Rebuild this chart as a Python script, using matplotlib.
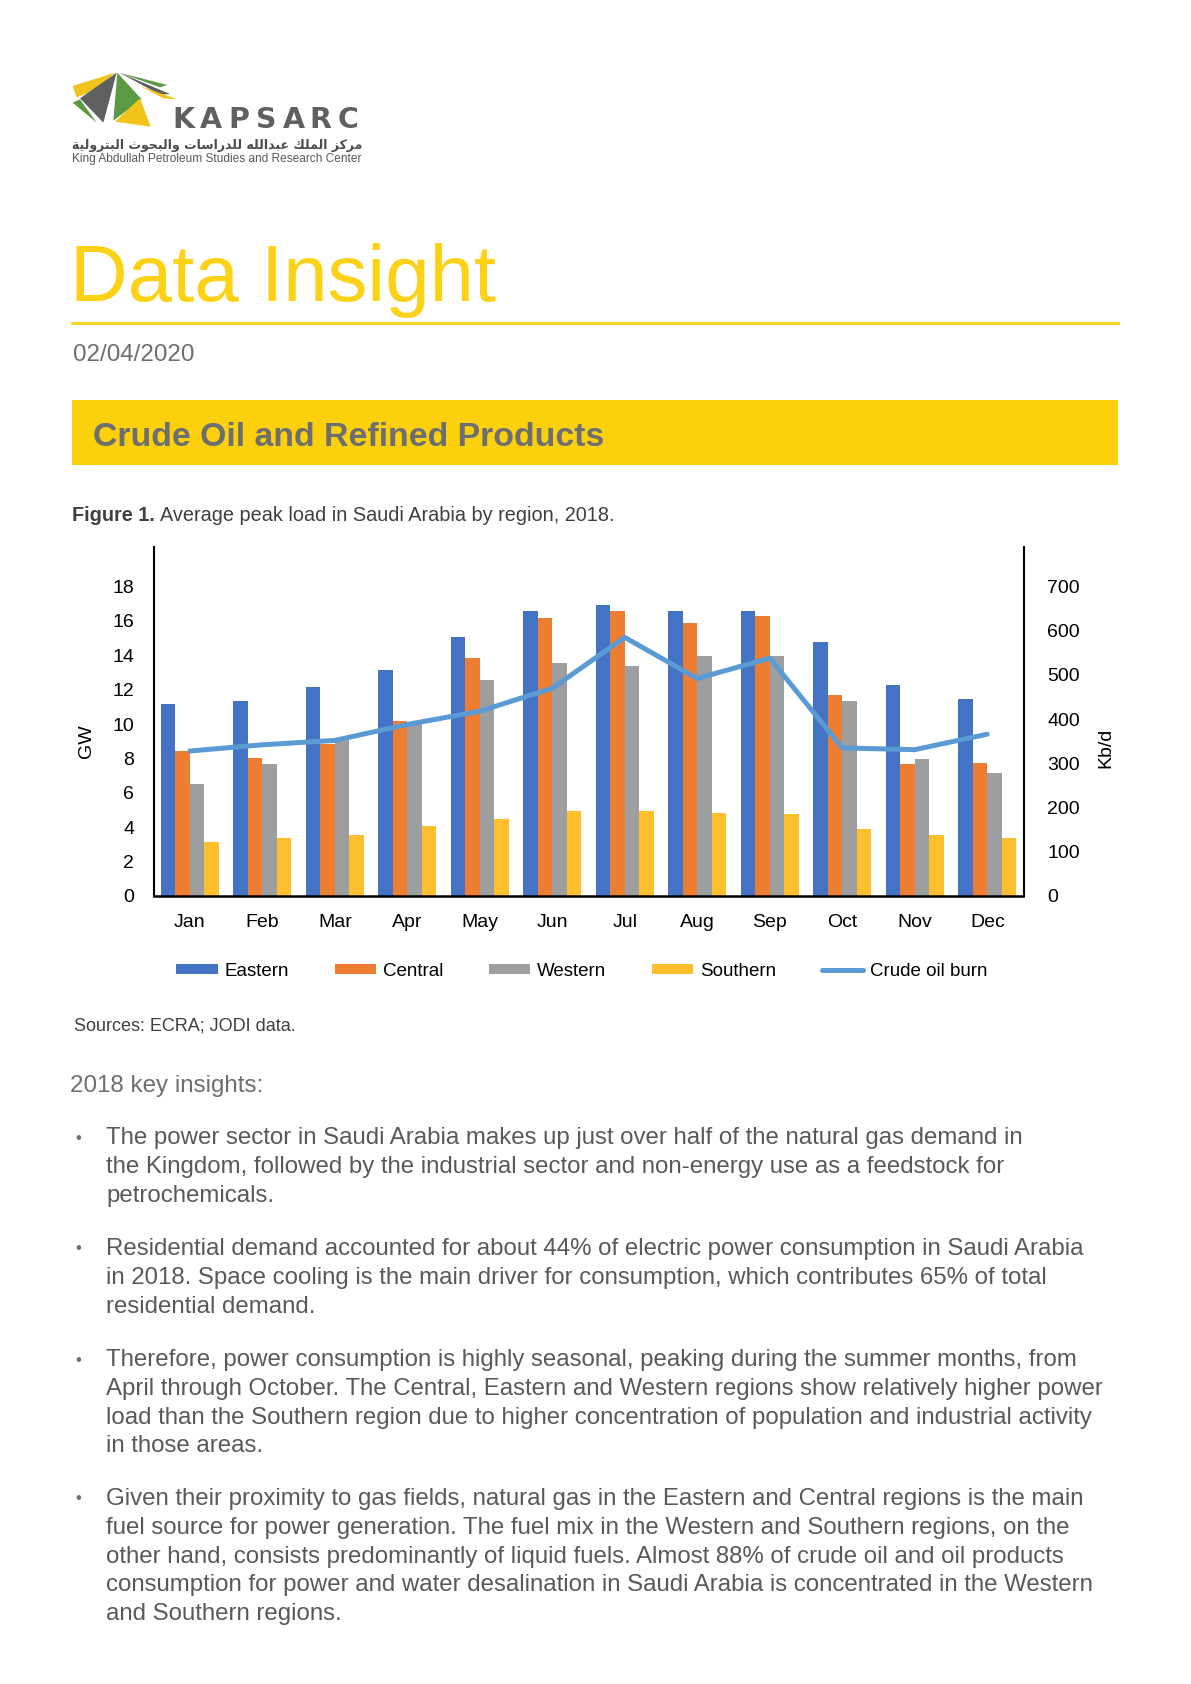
import matplotlib
matplotlib.use("Agg")
import matplotlib.pyplot as plt
from matplotlib.patches import Polygon, Rectangle
import numpy as np

# ---- data ----
months = ["Jan", "Feb", "Mar", "Apr", "May", "Jun",
          "Jul", "Aug", "Sep", "Oct", "Nov", "Dec"]
eastern = [11.15, 11.35, 12.15, 13.15, 15.05, 16.55, 16.95, 16.55, 16.6, 14.8, 12.25, 11.45]
central = [8.45, 8.0, 8.85, 10.2, 13.85, 16.15, 16.6, 15.9, 16.3, 11.7, 7.65, 7.75]
western = [6.5, 7.65, 9.05, 10.05, 12.55, 13.55, 13.35, 13.95, 13.95, 11.35, 7.95, 7.15]
southern = [3.15, 3.35, 3.55, 4.05, 4.5, 4.95, 4.95, 4.85, 4.75, 3.9, 3.55, 3.35]
crude_burn = [328, 342, 352, 388, 418, 470, 585, 492, 538, 335, 331, 366]

series_names = ["Eastern", "Central", "Western", "Southern"]
series_colors = ["#4472C4", "#ED7D31", "#9C9EA0", "#FDBF2D"]
line_color = "#5B9BD5"

bullets = [
    ["The power sector in Saudi Arabia makes up just over half of the natural gas demand in",
     "the Kingdom, followed by the industrial sector and non-energy use as a feedstock for",
     "petrochemicals."],
    ["Residential demand accounted for about 44% of electric power consumption in Saudi Arabia",
     "in 2018. Space cooling is the main driver for consumption, which contributes 65% of total",
     "residential demand."],
    ["Therefore, power consumption is highly seasonal, peaking during the summer months, from",
     "April through October. The Central, Eastern and Western regions show relatively higher power",
     "load than the Southern region due to higher concentration of population and industrial activity",
     "in those areas."],
    ["Given their proximity to gas fields, natural gas in the Eastern and Central regions is the main",
     "fuel source for power generation. The fuel mix in the Western and Southern regions, on the",
     "other hand, consists predominantly of liquid fuels. Almost 88% of crude oil and oil products",
     "consumption for power and water desalination in Saudi Arabia is concentrated in the Western",
     "and Southern regions."],
]
bullet_tops = [1138, 1249, 1360, 1499]

W, H = 1191, 1684
YELLOW = "#FCD116"
GREY = "#58595B"

plt.rcParams["font.family"] = ["Liberation Sans", "DejaVu Sans"]


def fx(x):
    return x / W


def fy(y):
    return 1 - y / H


# minimal arabic shaping with presentation forms (iso, fin, ini, med)
AR_FORMS = {
    "ا": (0xFE8D, 0xFE8E, None, None),
    "ب": (0xFE8F, 0xFE90, 0xFE91, 0xFE92),
    "ة": (0xFE93, 0xFE94, None, None),
    "ت": (0xFE95, 0xFE96, 0xFE97, 0xFE98),
    "ث": (0xFE99, 0xFE9A, 0xFE9B, 0xFE9C),
    "ح": (0xFEA1, 0xFEA2, 0xFEA3, 0xFEA4),
    "د": (0xFEA9, 0xFEAA, None, None),
    "ر": (0xFEAD, 0xFEAE, None, None),
    "ز": (0xFEAF, 0xFEB0, None, None),
    "س": (0xFEB1, 0xFEB2, 0xFEB3, 0xFEB4),
    "ع": (0xFEC9, 0xFECA, 0xFECB, 0xFECC),
    "ك": (0xFED9, 0xFEDA, 0xFEDB, 0xFEDC),
    "ل": (0xFEDD, 0xFEDE, 0xFEDF, 0xFEE0),
    "م": (0xFEE1, 0xFEE2, 0xFEE3, 0xFEE4),
    "ه": (0xFEE9, 0xFEEA, 0xFEEB, 0xFEEC),
    "و": (0xFEED, 0xFEEE, None, None),
    "ي": (0xFEF1, 0xFEF2, 0xFEF3, 0xFEF4),
}


def shape_arabic(text):
    out = []
    for i, ch in enumerate(text):
        forms = AR_FORMS.get(ch)
        if forms is None:
            out.append(ch)
            continue
        prev = text[i - 1] if i > 0 else " "
        nxt = text[i + 1] if i + 1 < len(text) else " "
        join_prev = prev in AR_FORMS and AR_FORMS[prev][2] is not None
        join_next = nxt in AR_FORMS and forms[2] is not None
        iso, fin, ini, med = forms
        if join_prev and join_next:
            c = med
        elif join_prev:
            c = fin
        elif join_next:
            c = ini
        else:
            c = iso
        out.append(chr(c))
    return "".join(reversed(out))


fig = plt.figure(figsize=(W / 100, H / 100), dpi=100)

# ---- logo ----
logo = fig.add_axes([0, 0, 1, 1], zorder=-1)
logo.set_xlim(0, W)
logo.set_ylim(H, 0)
logo.axis("off")


def z(pts):
    return [(px / 3 + 60, py / 3 + 60) for px, py in pts]


shapes = [
    (z([(165, 38), (38, 78), (50, 112), (110, 88)]), "#F2C318"),
    (z([(170, 38), (60, 115), (130, 188)]), "#5F6062"),
    (z([(60, 118), (38, 128), (110, 188)]), "#5B9A43"),
    (z([(172, 38), (160, 182), (245, 118)]), "#5B9A43"),
    (z([(165, 185), (240, 115), (272, 200)]), "#F2C318"),
    (z([(178, 38), (330, 102), (300, 104)]), "#5F6062"),
    (z([(178, 38), (322, 75), (300, 82)]), "#5B9A43"),
    (z([(240, 78), (352, 118), (310, 115)]), "#F2C318"),
]
for pts, col in shapes:
    logo.add_patch(Polygon(pts, closed=True, facecolor=col, edgecolor="none"))

for i, letter in enumerate("KAPSARC"):
    fig.text(fx(170 + 192 / 7 * (i + 0.5)), fy(119.5), letter, ha="center", va="center",
             fontsize=20.5, fontweight="bold", color="#5F6062", family="DejaVu Sans")
fig.text(fx(362), fy(145), shape_arabic("مركز الملك عبدالله للدراسات والبحوث البترولية"),
         ha="right", va="center", fontsize=9.0, color="#4D4D4F", family="DejaVu Sans",
         fontweight="bold")
fig.text(fx(72), fy(159), "King Abdullah Petroleum Studies and Research Center",
         ha="left", va="center", fontsize=8.55, color=GREY)

# ---- header ----
fig.text(fx(70), fy(301), "Data Insight", ha="left", va="baseline",
         fontsize=57.5, color=YELLOW)
logo.plot([72, 1118], [323, 323], color=YELLOW, lw=2)
fig.text(fx(73), fy(355), "02/04/2020", ha="left", va="center", fontsize=17.4, color="#6D6E70")
logo.add_patch(Rectangle((72, 400), 1046, 65, facecolor="#FDD00E", edgecolor="none"))
fig.text(fx(93), fy(437), "Crude Oil and Refined Products", ha="left", va="center",
         fontsize=24.4, fontweight="bold", color="#6D6E70")

fig.text(fx(72), fy(515), "Figure 1.", ha="left", va="center", fontsize=14.3,
         fontweight="bold", color="#3F3F3F")
fig.text(fx(160), fy(515), "Average peak load in Saudi Arabia by region, 2018.", ha="left",
         va="center", fontsize=14.3, color="#3F3F3F")

# ---- chart ----
ax = fig.add_axes([fx(153.6), fy(896), (1023.5 - 153.6) / W, (896 - 547) / H])
x = np.arange(len(months))
for k, (vals, name, col) in enumerate(zip([eastern, central, western, southern],
                                          series_names, series_colors)):
    ax.bar(x + (k - 1.5) * 0.2, vals, width=0.2, color=col, label=name, zorder=2)

ax.set_xlim(-0.5, 11.5)
ax.set_ylim(0, 20.3)
ax.set_yticks(range(0, 19, 2))
ax.set_xticks(x)
ax.set_xticklabels(months)
ax.tick_params(axis="both", length=0, labelsize=14, colors="black")
ax.tick_params(axis="y", pad=14)
ax.tick_params(axis="x", pad=13)
for s in ["top", "right"]:
    ax.spines[s].set_visible(False)
ax.spines["left"].set_linewidth(1.5)
ax.spines["bottom"].set_linewidth(1.8)

ax2 = ax.twinx()
ax2.plot(x, crude_burn, color=line_color, lw=3.6, label="Crude oil burn", solid_capstyle="round")
ax2.set_ylim(0, 20.3 / 18 * 700)
ax2.set_yticks(range(0, 701, 100))
ax2.tick_params(axis="y", length=0, labelsize=14, pad=17)
for s in ["top", "left", "bottom"]:
    ax2.spines[s].set_visible(False)
ax2.spines["right"].set_linewidth(1.5)

fig.text(fx(86), fy(741), "GW", rotation=90, ha="center", va="center", fontsize=14)
fig.text(fx(1106), fy(748), "Kb/d", rotation=90, ha="center", va="center", fontsize=14)

h1, l1 = ax.get_legend_handles_labels()
h2, l2 = ax2.get_legend_handles_labels()
fig.legend(h1 + h2, l1 + l2, loc="center", bbox_to_anchor=(fx(582), fy(971)), ncol=5,
           frameon=False, fontsize=13.5, handlelength=2.2, handleheight=0.5,
           handletextpad=0.4, columnspacing=2.4)

fig.text(fx(74), fy(1026), "Sources: ECRA; JODI data.", ha="left", va="center",
         fontsize=13, color="#3F3F3F")

# ---- insights ----
fig.text(fx(70), fy(1086), "2018 key insights:", ha="left", va="center", fontsize=17.4,
         color="#6D6E70")
for para, top in zip(bullets, bullet_tops):
    fig.text(fx(75), fy(top), "•", ha="left", va="center", fontsize=12, color="#6D6E70")
    for j, line in enumerate(para):
        fig.text(fx(106), fy(top + j * 28.8), line, ha="left", va="center",
                 fontsize=17.3, color=GREY)

fig.savefig("out.png", dpi=100)
